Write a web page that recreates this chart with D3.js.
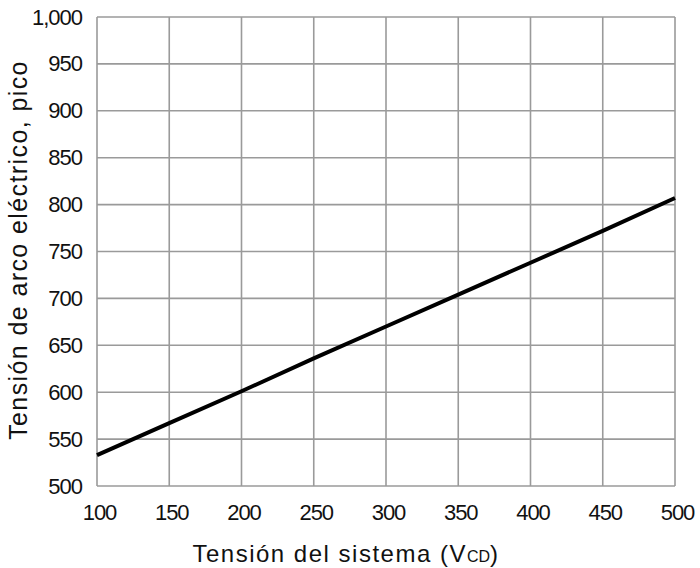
<!DOCTYPE html>
<html>
<head>
<meta charset="utf-8">
<script src="https://cdn.jsdelivr.net/npm/d3@7"></script>
<style>
  body { margin: 0; background: #fff; }
  text { font-family: "Liberation Sans", Arial, sans-serif; fill: #111; }
</style>
</head>
<body>
<svg id="chart"></svg>
<script>
// values
const voltages = [100, 150, 200, 250, 300, 350, 400, 450, 500];
const arcPeak = [533, 567, 601, 636, 670, 704, 738, 772, 807];
const xTicks = [100, 150, 200, 250, 300, 350, 400, 450, 500];
const yTicks = [500, 550, 600, 650, 700, 750, 800, 850, 900, 950, 1000];

const width = 700, height = 568;
const margin = {top: 17, right: 25, bottom: 82, left: 97};

const svg = d3.select('#chart')
    .attr('width', width)
    .attr('height', height);

const innerW = width - margin.left - margin.right;
const innerH = height - margin.top - margin.bottom;

const chart = svg.append('g')
    .attr('transform', `translate(${margin.left}, ${margin.top})`);

const xscale = d3.scaleLinear().domain([100, 500]).range([0, innerW]);
const yscale = d3.scaleLinear().domain([500, 1000]).range([innerH, 0]);

// grid
chart.append('g')
    .selectAll('line')
    .data(xTicks)
    .join('line')
    .attr('x1', d => xscale(d)).attr('x2', d => xscale(d))
    .attr('y1', 0).attr('y2', innerH)
    .attr('stroke', '#9a9a9a')
    .attr('stroke-width', 1.6);

chart.append('g')
    .selectAll('line')
    .data(yTicks)
    .join('line')
    .attr('x1', 0).attr('x2', innerW)
    .attr('y1', d => yscale(d)).attr('y2', d => yscale(d))
    .attr('stroke', '#9a9a9a')
    .attr('stroke-width', 1.6);

// axes (labels only)
const fmt = d3.format(',');
const xaxis = d3.axisBottom(xscale).tickValues(xTicks).tickSize(0).tickPadding(18).tickFormat(fmt);
const yaxis = d3.axisLeft(yscale).tickValues(yTicks).tickSize(0).tickPadding(15).tickFormat(fmt);

const xg = chart.append('g')
    .attr('transform', `translate(0, ${innerH})`)
    .call(xaxis);
const yg = chart.append('g').call(yaxis);

[xg, yg].forEach(g => {
    g.select('.domain').remove();
    g.selectAll('text')
        .attr('font-family', '"Liberation Sans", Arial, sans-serif')
        .attr('font-size', 22)
        .attr('letter-spacing', -1)
        .attr('fill', '#111');
});
xg.selectAll('text').attr('dx', 2);

// data line
const line = d3.line()
    .x((d, i) => xscale(voltages[i]))
    .y(d => yscale(d));

chart.append('path')
    .attr('d', line(arcPeak))
    .attr('stroke', '#000')
    .attr('stroke-width', 4)
    .attr('fill', 'none');

// titles
const xt = svg.append('text')
    .attr('x', 346)
    .attr('y', 562)
    .attr('text-anchor', 'middle')
    .attr('font-size', 24)
    .attr('letter-spacing', 1.5)
    .attr('fill', '#222');
xt.append('tspan').text('Tensión del sistema (V');
xt.append('tspan').attr('font-size', 16).attr('letter-spacing', 0).text('CD');
xt.append('tspan').text(')');

svg.append('text')
    .attr('transform', 'translate(27, 250) rotate(-90)')
    .attr('text-anchor', 'middle')
    .attr('font-size', 25)
    .attr('letter-spacing', 1.4)
    .attr('fill', '#111')
    .text('Tensión de arco eléctrico, pico');
</script>
</body>
</html>
